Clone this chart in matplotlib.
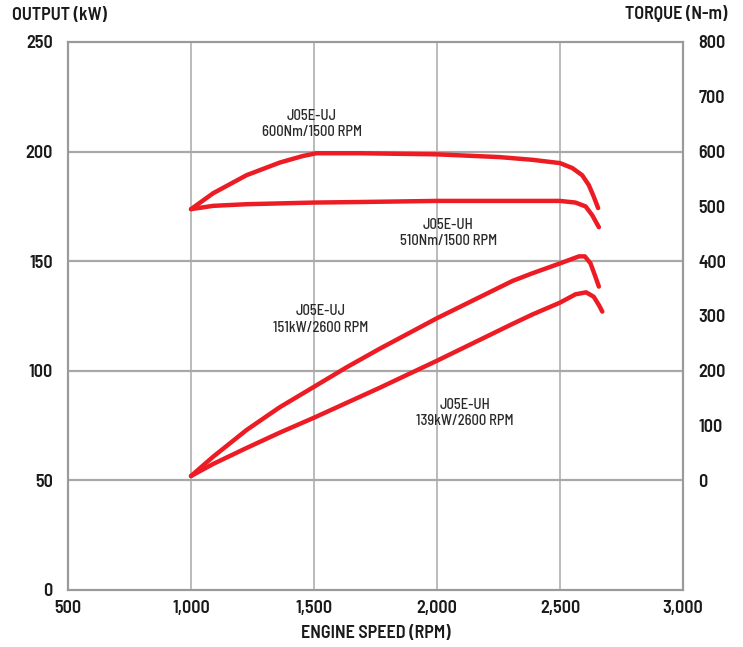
import matplotlib
matplotlib.use("Agg")
import matplotlib.pyplot as plt

plt.rcParams['font.family'] = ['Barlow Semi Condensed', 'DejaVu Sans']

# Torque curves (N-m)
rpm_tq_uj = [1000, 1090, 1226, 1361, 1455, 1510, 1685, 2000, 2253, 2388, 2500, 2550, 2590, 2617, 2637, 2655]
tq_uj = [495, 524, 557, 580, 592, 597, 597, 595, 590, 585, 579, 570, 557, 539, 518, 497]
rpm_tq_uh = [1000, 1090, 1226, 1500, 1685, 2000, 2253, 2500, 2563, 2604, 2631, 2658]
tq_uh = [495, 501, 504, 507, 508, 510, 510, 510, 507, 500, 484, 462]

# Output curves (kW)
rpm_pw_uj = [1000, 1090, 1226, 1361, 1500, 1631, 1766, 2000, 2307, 2388, 2500, 2577, 2601, 2624, 2644, 2658]
pw_uj = [52.0, 60.8, 73.0, 83.4, 92.7, 101.5, 110.0, 124.0, 141.0, 144.5, 149.0, 152.2, 152.2, 149.0, 142.9, 138.4]
rpm_pw_uh = [1000, 1090, 1226, 1361, 1500, 1631, 1766, 2000, 2307, 2388, 2500, 2563, 2606, 2637, 2658, 2672]
pw_uh = [52.0, 57.5, 64.8, 71.8, 78.6, 85.3, 92.2, 104.6, 121.4, 125.7, 131.1, 134.9, 135.8, 133.8, 130.0, 127.0]

x_ticks = [500, 1000, 1500, 2000, 2500, 3000]
x_labels = ['500', '1,000', '1,500', '2,000', '2,500', '3,000']
kw_ticks = [0, 50, 100, 150, 200, 250]
tq_ticks = [0, 100, 200, 300, 400, 500, 600, 700, 800]

annotations = [
    (1492, 212.6, 'J05E-UJ\n600Nm/1500 RPM'),
    (2045, 162.9, 'J05E-UH\n510Nm/1500 RPM'),
    (1528, 123.4, 'J05E-UJ\n151kW/2600 RPM'),
    (2114, 80.6, 'J05E-UH\n139kW/2600 RPM'),
]

RED = '#ED1C24'
GRID = '#A8A8A8'
TXT = '#1a1a1a'

fig = plt.figure(figsize=(7.43, 6.47), dpi=100)
ax = fig.add_axes([68/743, 57/647, 615/743, 548/647])
ax2 = ax.twinx()

ax.set_xlim(500, 3000)
ax.set_ylim(0, 250)
ax2.set_ylim(-200, 800)

for x in [1000, 1500, 2000, 2500]:
    ax.axvline(x, color=GRID, lw=1.1, zorder=1)
for y in [50, 100, 150, 200]:
    ax.axhline(y, color=GRID, lw=1.6, zorder=1)

lw = 3.2
kw = dict(color=RED, lw=lw, solid_capstyle='round', solid_joinstyle='round', zorder=3)
ax.plot(rpm_pw_uj, pw_uj, **kw)
ax.plot(rpm_pw_uh, pw_uh, **kw)
ax2.plot(rpm_tq_uj, tq_uj, **kw)
ax2.plot(rpm_tq_uh, tq_uh, **kw)

for x, y, t in annotations:
    ax.text(x, y, t, ha='center', va='center', fontsize=10.5, fontweight=500,
            color='#2a2a2a', linespacing=1.2, zorder=4)

for a in (ax, ax2):
    for s in a.spines.values():
        s.set_color('#9A9A9A')
        s.set_linewidth(1.5)

ax.set_xticks(x_ticks)
ax.set_xticklabels(x_labels)
ax.set_yticks(kw_ticks)
ax2.set_yticks(tq_ticks)
ax.tick_params(axis='x', length=0, labelsize=13, colors=TXT, pad=7)
ax.tick_params(axis='y', length=0, labelsize=13, colors=TXT, pad=11)
ax2.tick_params(axis='y', length=0, labelsize=13, colors=TXT, pad=11)
for lab in ax.get_xticklabels() + ax.get_yticklabels() + ax2.get_yticklabels():
    lab.set_fontweight(600)

ax.set_xlabel('ENGINE SPEED (RPM)', fontsize=13, fontweight=600, color=TXT, labelpad=6)
fig.text(12/743, 1 - 15/647, 'OUTPUT (kW)', ha='left', va='center', fontsize=13, fontweight=600, color=TXT)
fig.text(727/743, 1 - 15/647, 'TORQUE (N-m)', ha='right', va='center', fontsize=13, fontweight=600, color=TXT)

fig.savefig('out.png', dpi=100)
